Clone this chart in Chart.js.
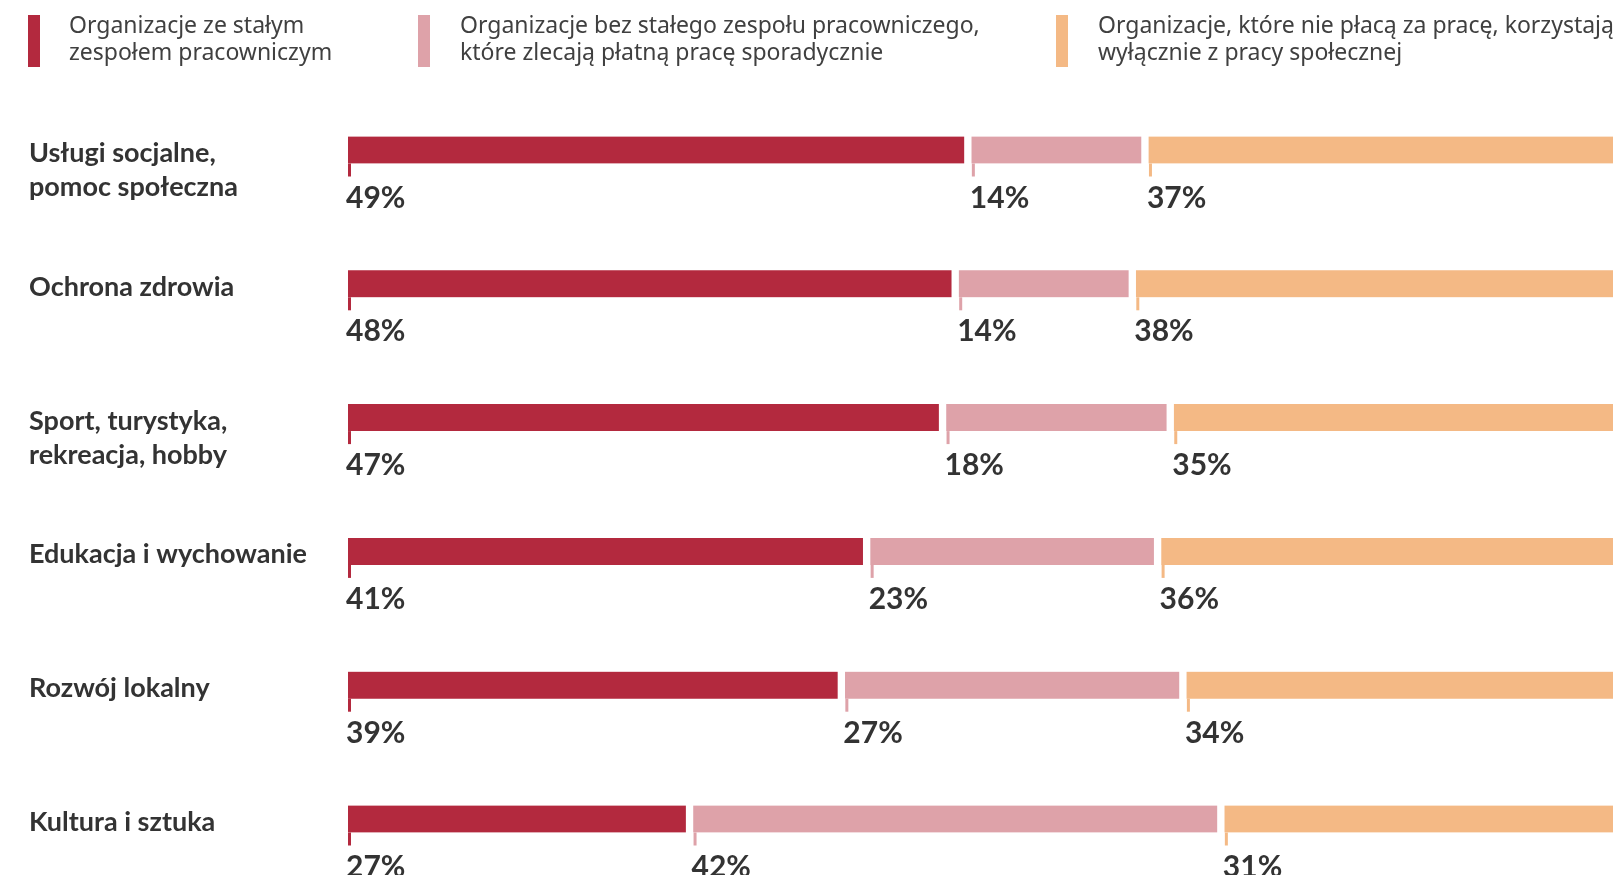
<!DOCTYPE html>
<html>
<head>
<meta charset="utf-8">
<script src="https://cdn.jsdelivr.net/npm/chart.js@4.4.1/dist/chart.umd.min.js"></script>
<style>
  html, body { margin: 0; padding: 0; background: #fff; overflow: hidden; }
  #wrap { position: relative; width: 1619px; height: 875px; }
  #legend { position: absolute; top: 0; left: 0; width: 1619px; height: 80px; overflow: hidden;
            font-family: "Noto Sans", sans-serif; font-size: 23px; line-height: 27px; color: #404040; }
  .item { position: absolute; top: 11px; white-space: nowrap; }
  .mark { position: absolute; top: 4px; width: 12px; height: 52px; }
  .txt { position: absolute; top: 0; }
</style>
</head>
<body>
<div id="wrap">
  <div id="legend"></div>
  <canvas id="myChart" width="1619" height="875"></canvas>
</div>
<script>
const categories = [
  ["Usługi socjalne,", "pomoc społeczna"],
  ["Ochrona zdrowia"],
  ["Sport, turystyka,", "rekreacja, hobby"],
  ["Edukacja i wychowanie"],
  ["Rozwój lokalny"],
  ["Kultura i sztuka"]
]
const seriesNames = [
  ["Organizacje ze stałym", "zespołem pracowniczym"],
  ["Organizacje bez stałego zespołu pracowniczego,", "które zlecają płatną pracę sporadycznie"],
  ["Organizacje, które nie płacą za pracę, korzystają", "wyłącznie z pracy społecznej"]
]
const stalyZespol = [49, 48, 47, 41, 39, 27]
const sporadycznie = [14, 14, 18, 23, 27, 42]
const spoleczna = [37, 38, 35, 36, 34, 31]
const colors = ["#b3293e", "#dea2a9", "#f4b985"]

// legend drawn as html (two-line entries with tall markers)
const legendX = [[28, 69], [418, 460], [1056, 1098]]
const legend = document.getElementById("legend")
seriesNames.forEach((lines, i) => {
    const item = document.createElement("div")
    item.className = "item"
    item.innerHTML = `<div class="mark" style="left:${legendX[i][0]}px;background:${colors[i]}"></div>` +
        `<div class="txt" style="left:${legendX[i][1]}px">${lines.join("<br>")}</div>`
    legend.appendChild(item)
})

const gap = 4
const labelsPlugin = {
    id: "segmentLabels",
    afterDatasetsDraw(chart) {
        const ctx = chart.ctx
        const yScale = chart.scales.y
        ctx.save()
        // category names on the left
        ctx.fillStyle = "#333"
        ctx.font = "bold 27px Lato"
        ctx.textAlign = "left"
        ctx.textBaseline = "alphabetic"
        categories.forEach((lines, i) => {
            const y = yScale.getPixelForValue(i)
            lines.forEach((line, k) => ctx.fillText(line, 29, y + 12 + k * 34))
        })
        // tick + value under each segment
        chart.data.datasets.forEach((ds, di) => {
            const meta = chart.getDatasetMeta(di)
            meta.data.forEach((bar, i) => {
                const left = Math.min(bar.base, bar.x) + (di === 0 ? 0 : gap)
                const bottom = bar.y + bar.height / 2
                ctx.fillStyle = ds.backgroundColor
                ctx.fillRect(left, bottom, 3, 13)
                ctx.fillStyle = "#333"
                ctx.font = "bold 30px Lato"
                ctx.fillText(ds.data[i] + "%", left - 2, bottom + 44)
            })
        })
        ctx.restore()
    }
}

const makeSet = (name, data, i) => ({
    label: name.join(" "),
    data: data,
    backgroundColor: colors[i],
    borderColor: "#fff",
    borderWidth: { top: 0, bottom: 0, left: i === 0 ? 0 : gap, right: i === 2 ? 0 : gap },
    borderSkipped: false,
    barThickness: 27,
    clip: false
})

const ctx = document.getElementById("myChart").getContext("2d")
const chart = new Chart(ctx, {
    type: "bar",
    data: {
        labels: categories.map(c => c.join(" ")),
        datasets: [
            makeSet(seriesNames[0], stalyZespol, 0),
            makeSet(seriesNames[1], sporadycznie, 1),
            makeSet(seriesNames[2], spoleczna, 2)
        ]
    },
    options: {
        indexAxis: "y",
        responsive: false,
        animation: false,
        layout: { padding: { left: 348, right: 6, top: 150, bottom: 56 } },
        scales: {
            x: { stacked: true, min: 0, max: 100, display: false },
            y: { stacked: true, offset: false, display: false }
        },
        plugins: { legend: { display: false }, tooltip: { enabled: false } }
    },
    plugins: [labelsPlugin]
})
</script>
</body>
</html>
